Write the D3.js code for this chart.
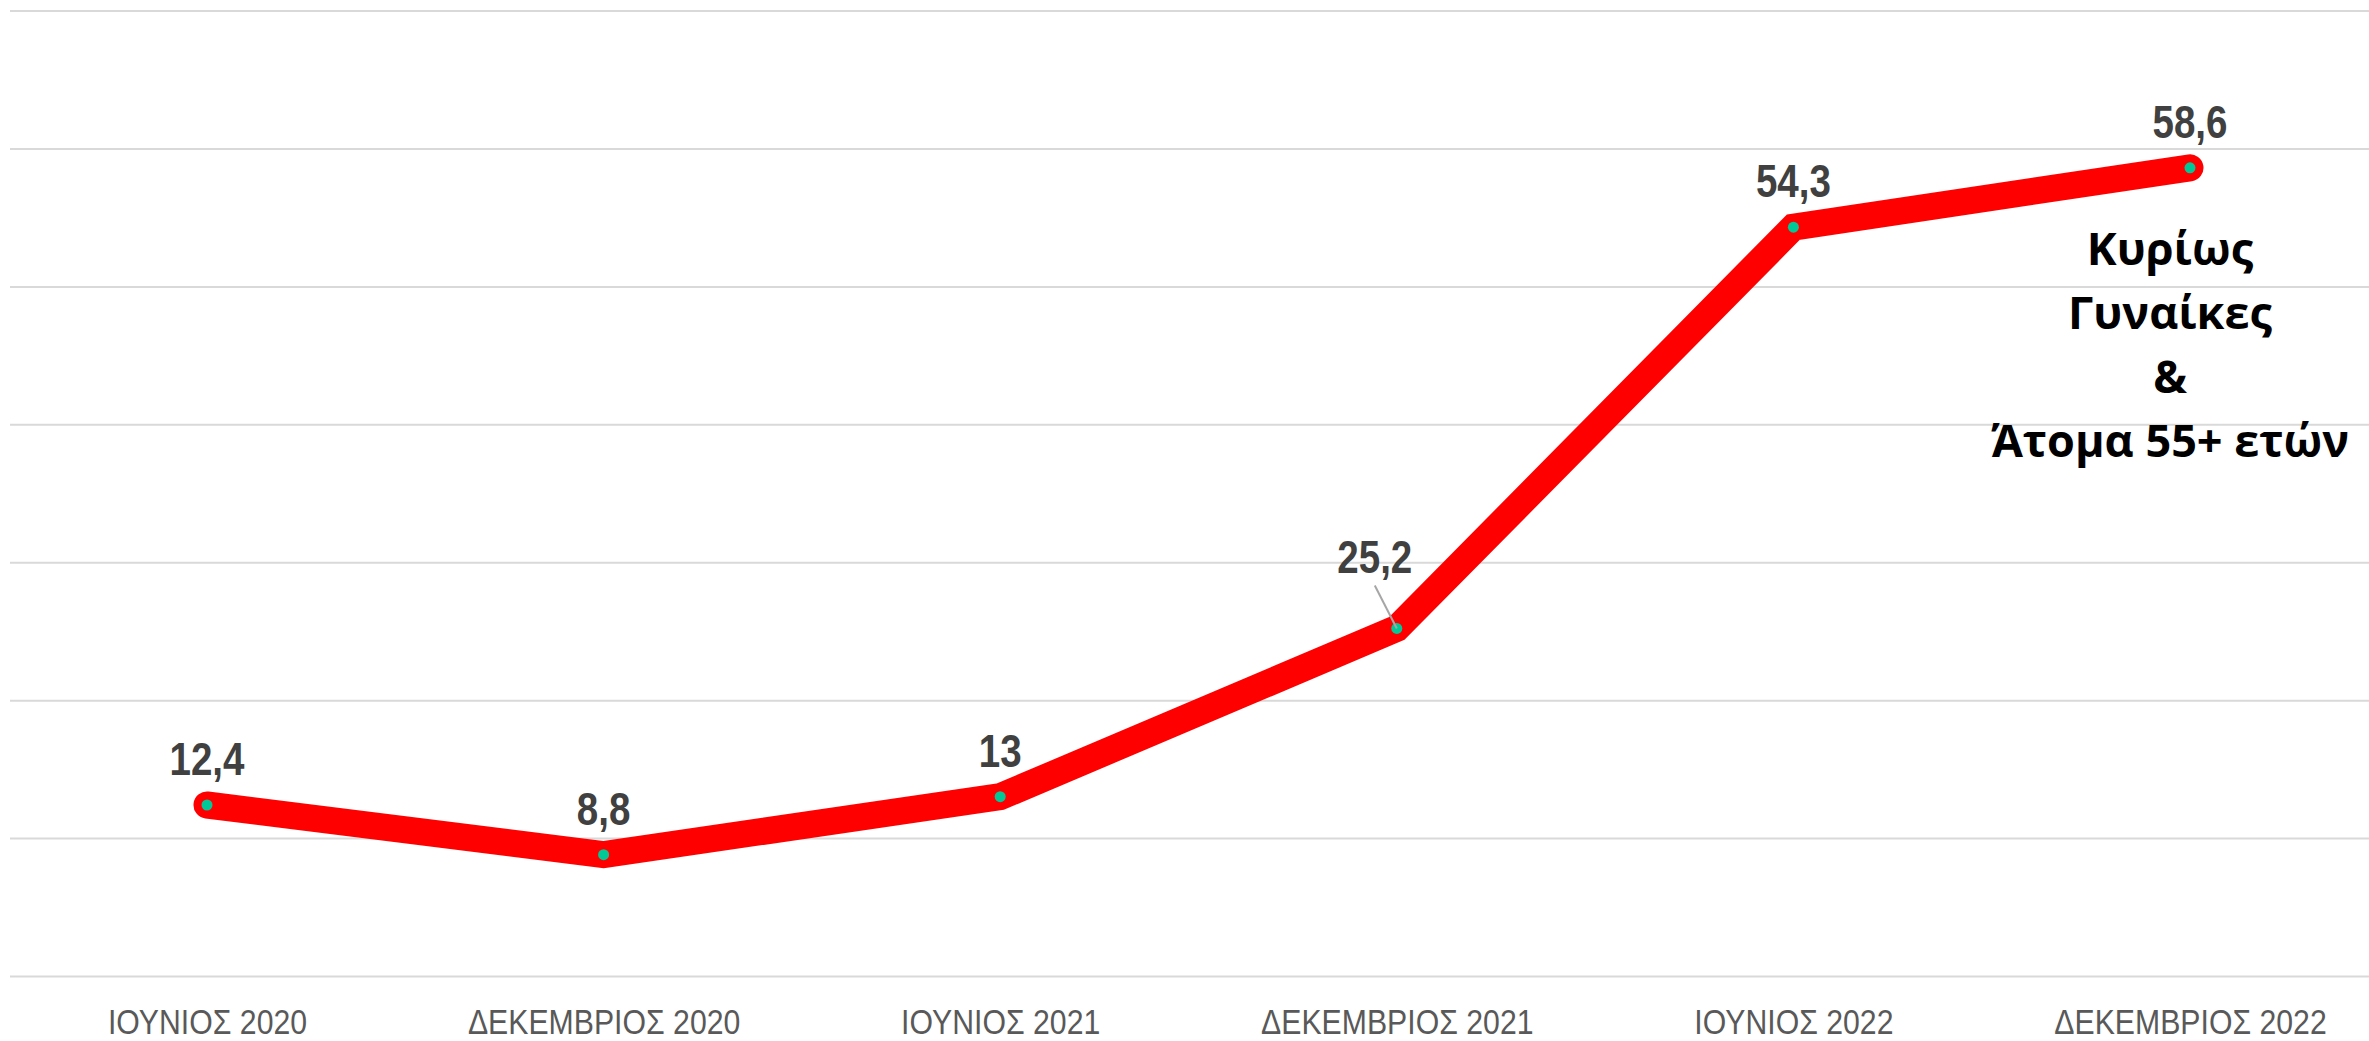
<!DOCTYPE html>
<html>
<head>
<meta charset="utf-8">
<script src="https://cdn.jsdelivr.net/npm/d3@7"></script>
<style>
  html, body { margin: 0; padding: 0; background: #ffffff; }
  svg { display: block; }
</style>
</head>
<body>
<svg id="chart" width="2369" height="1041"></svg>
<script>
// ---- data ----
const categories = ["ΙΟΥΝΙΟΣ 2020", "ΔΕΚΕΜΒΡΙΟΣ 2020", "ΙΟΥΝΙΟΣ 2021", "ΔΕΚΕΜΒΡΙΟΣ 2021", "ΙΟΥΝΙΟΣ 2022", "ΔΕΚΕΜΒΡΙΟΣ 2022"];
const values = [12.4, 8.8, 13, 25.2, 54.3, 58.6];
const valueLabels = ["12,4", "8,8", "13", "25,2", "54,3", "58,6"];
const yTicks = [0, 10, 20, 30, 40, 50, 60, 70];
const annotationLines = ["Κυρίως", "Γυναίκες", "&", "Άτομα 55+ ετών"];

// ---- layout ----
const W = 2369, H = 1041;
const narrowFont = "'Liberation Sans Narrow', 'Arial Narrow', 'Liberation Sans', Arial, sans-serif";
const svg = d3.select("#chart");
const x = d3.scalePoint().domain(categories).range([207, 2190]);
const y = d3.scaleLinear().domain([0, 70]).range([976, 10.6]);

// gridlines
const gridAxis = d3.axisLeft(y).tickValues(yTicks).tickSize(-(W - 10)).tickFormat("");
const g = svg.append("g").attr("transform", "translate(10,0)").call(gridAxis);
g.select(".domain").remove();
g.selectAll(".tick line").attr("stroke", "#D9D9D9").attr("stroke-width", 2);

// x axis labels
const xAxis = d3.axisBottom(x).tickSize(0);
const xg = svg.append("g").attr("transform", `translate(0,${y(0)})`).call(xAxis);
xg.select(".domain").remove();
xg.selectAll(".tick text")
  .attr("y", 58).attr("dy", 0)
  .attr("transform", "scale(0.84,1)")
  .attr("fill", "#595959")
  .style("font-family", narrowFont)
  .style("font-size", "36px");

// line
const pts = categories.map((c, i) => ({ c, v: values[i], label: valueLabels[i] }));
const line = d3.line().x(d => x(d.c)).y(d => y(d.v));
svg.append("path")
  .datum(pts)
  .attr("d", line)
  .attr("fill", "none")
  .attr("stroke", "#FF0000")
  .attr("stroke-width", 27)
  .attr("stroke-linejoin", "miter")
  .attr("stroke-linecap", "round");

// markers
svg.selectAll("circle.pt").data(pts).enter().append("circle")
  .attr("class", "pt")
  .attr("cx", d => x(d.c)).attr("cy", d => y(d.v))
  .attr("r", 5.5)
  .attr("fill", "#00C896");

// data labels (4th label is displaced with a leader line)
const labelOffset = (i) => i === 3 ? { dx: -22, dy: -55 } : { dx: 0, dy: -30 };
pts.forEach((d, i) => {
  const o = labelOffset(i);
  const px = x(d.c), py = y(d.v);
  if (i === 3) {
    svg.append("line")
      .attr("x1", px + o.dx).attr("y1", py + o.dy + 12)
      .attr("x2", px).attr("y2", py)
      .attr("stroke", "#A6A6A6").attr("stroke-width", 2);
  }
  svg.append("g")
    .attr("transform", `translate(${px + o.dx},${py + o.dy})`)
    .append("text")
    .attr("transform", "scale(0.82,1)")
    .attr("text-anchor", "middle")
    .attr("fill", "#404040")
    .style("font-family", narrowFont)
    .style("font-weight", "bold")
    .style("font-size", "47px")
    .text(d.label);
});

// annotation
const ann = svg.append("text")
  .attr("text-anchor", "middle")
  .attr("fill", "#000000")
  .style("font-family", "'Open Sans', 'Noto Sans', sans-serif")
  .style("font-weight", "bold")
  .style("font-size", "45px");
annotationLines.forEach((t, i) => {
  ann.append("tspan").attr("x", 2170).attr("y", 265 + i * 64).text(t);
});
</script>
</body>
</html>
